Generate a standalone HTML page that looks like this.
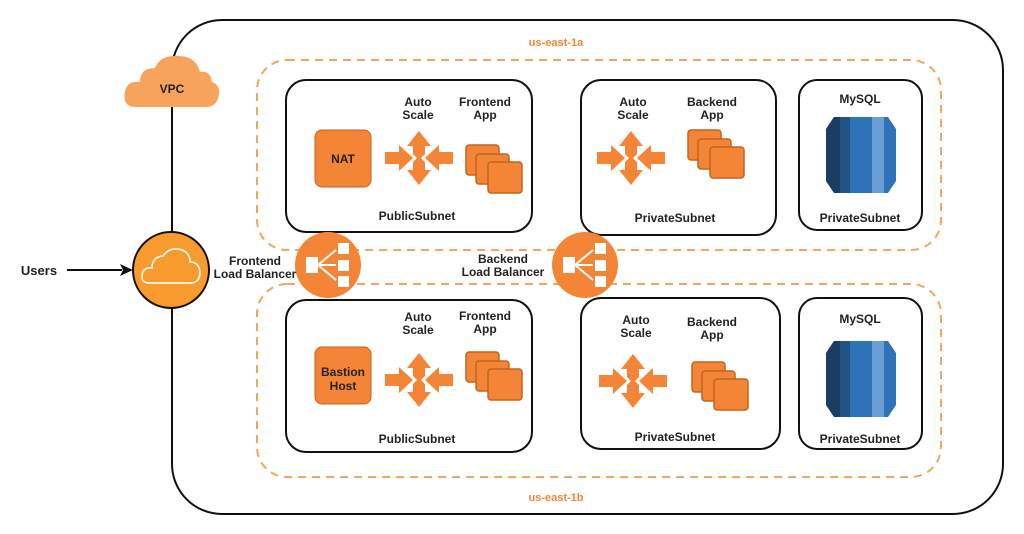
<!DOCTYPE html>
<html><head><meta charset="utf-8"><style>
html,body{margin:0;padding:0;background:#fff}
svg{display:block}
text{font-family:"Liberation Sans",Arial,sans-serif;font-weight:bold;font-size:12px;fill:#222;text-anchor:middle}
</style></head><body>
<svg width="1024" height="534" viewBox="0 0 1024 534" xmlns="http://www.w3.org/2000/svg">
<defs>
<symbol id="as" overflow="visible">
 <g fill="#F58536">
  <polygon points="-12,-12 0,-27 12,-12 6,-12 6,-4 0,2 -6,-4 -6,-12"/>
  <polygon points="-12,12 0,27 12,12 6,12 6,4 0,-2 -6,4 -6,12"/>
  <polygon points="-34,-6 -20,-6 -20,-13 -6,0 -20,13 -20,6 -34,6"/>
  <polygon points="34,-6 20,-6 20,-13 6,0 20,13 20,6 34,6"/>
 </g>
</symbol>
<symbol id="app" overflow="visible">
 <g fill="#F58536" stroke="#C0651F" stroke-width="1.5">
  <rect x="0" y="0" width="33" height="30" rx="3"/>
  <rect x="10" y="9" width="33" height="30" rx="3"/>
  <rect x="22" y="17" width="34" height="31" rx="3"/>
 </g>
</symbol>
<symbol id="db" overflow="visible">
 <path d="M8,0 L62,0 L70,12 L70,64 L62,76 L8,76 L0,64 L0,12 Z" fill="#2E73B8"/>
 <path d="M8,0 L14,0 L14,76 L8,76 L0,64 L0,12 Z" fill="#1B3D63"/>
 <path d="M14,0 L24,0 L24,76 L14,76 Z" fill="#225385"/>
 <path d="M46,0 L58,0 L58,76 L46,76 Z" fill="#6A9FD4"/>
</symbol>
<symbol id="lb" overflow="visible">
 <circle cx="0" cy="0" r="33" fill="#F58536"/>
 <g fill="#fff" stroke="#fff">
  <rect x="-22" y="-8" width="12" height="16" stroke="none"/>
  <rect x="10" y="-22" width="11" height="11" stroke="none"/>
  <rect x="10" y="-5" width="11" height="11" stroke="none"/>
  <rect x="10" y="11" width="11" height="11" stroke="none"/>
  <line x1="-10" y1="0" x2="8" y2="-15" stroke-width="2"/>
  <line x1="-10" y1="0" x2="8" y2="0" stroke-width="2"/>
  <line x1="-10" y1="0" x2="8" y2="15" stroke-width="2"/>
 </g>
</symbol>
</defs>

<!-- VPC border -->
<rect x="172" y="20" width="831" height="494" rx="50" fill="none" stroke="#111" stroke-width="2"/>
<line x1="172" y1="100" x2="172" y2="232" stroke="#111" stroke-width="2"/>
<!-- VPC cloud -->
<path d="M135,107 Q122,106 125,92 Q127,80 140,82 Q140,68 155,68 Q160,55 178,56 Q196,56 200,72 Q210,70 212,82 Q222,86 218,98 Q216,107 205,107 Z" fill="#F8A35B"/>
<text x="172" y="93">VPC</text>

<!-- zones -->
<rect x="257" y="60" width="684" height="190" rx="30" fill="none" stroke="#F8A35B" stroke-width="2" stroke-dasharray="8,6"/>
<rect x="257" y="284" width="684" height="193" rx="30" fill="none" stroke="#F8A35B" stroke-width="2" stroke-dasharray="8,6"/>
<text x="556" y="46" style="fill:#F58536;font-size:11px">us-east-1a</text>
<text x="556" y="501" style="fill:#F58536;font-size:11px">us-east-1b</text>

<!-- subnets top -->
<rect x="286" y="80" width="246" height="152" rx="20" fill="#fff" stroke="#111" stroke-width="2"/>
<rect x="581" y="80" width="195" height="155" rx="20" fill="#fff" stroke="#111" stroke-width="2"/>
<rect x="799" y="80" width="123" height="150" rx="18" fill="#fff" stroke="#111" stroke-width="2"/>
<!-- subnets bottom -->
<rect x="286" y="300" width="246" height="152" rx="20" fill="#fff" stroke="#111" stroke-width="2"/>
<rect x="581" y="298" width="199" height="151" rx="20" fill="#fff" stroke="#111" stroke-width="2"/>
<rect x="799" y="298" width="123" height="151" rx="18" fill="#fff" stroke="#111" stroke-width="2"/>

<!-- top public -->
<rect x="315" y="130" width="56" height="57" rx="7" fill="#F58536" stroke="#C0651F" stroke-width="1"/>
<text x="343" y="163">NAT</text>
<use href="#as" x="419" y="158"/>
<use href="#app" x="466" y="145"/>
<text x="418" y="106">Auto</text><text x="418" y="119">Scale</text>
<text x="485" y="106">Frontend</text><text x="485" y="119">App</text>
<text x="417" y="220">PublicSubnet</text>

<!-- top private -->
<use href="#as" x="631" y="158"/>
<use href="#app" x="688" y="130"/>
<text x="633" y="106">Auto</text><text x="633" y="119">Scale</text>
<text x="712" y="106">Backend</text><text x="712" y="119">App</text>
<text x="675" y="222">PrivateSubnet</text>

<!-- top mysql -->
<text x="860" y="103">MySQL</text>
<use href="#db" x="826" y="117"/>
<text x="860" y="222">PrivateSubnet</text>

<!-- bottom public -->
<rect x="315" y="347" width="56" height="57" rx="7" fill="#F58536" stroke="#C0651F" stroke-width="1"/>
<text x="343" y="376">Bastion</text><text x="343" y="390">Host</text>
<use href="#as" x="419" y="380"/>
<use href="#app" x="466" y="352"/>
<text x="418" y="321">Auto</text><text x="418" y="334">Scale</text>
<text x="485" y="320">Frontend</text><text x="485" y="333">App</text>
<text x="417" y="443">PublicSubnet</text>

<!-- bottom private -->
<use href="#as" x="633" y="381"/>
<use href="#app" x="692" y="362"/>
<text x="636" y="324">Auto</text><text x="636" y="337">Scale</text>
<text x="712" y="326">Backend</text><text x="712" y="339">App</text>
<text x="675" y="441">PrivateSubnet</text>

<!-- bottom mysql -->
<text x="860" y="323">MySQL</text>
<use href="#db" x="826" y="341"/>
<text x="860" y="443">PrivateSubnet</text>

<!-- load balancers -->
<use href="#lb" x="328" y="265"/>
<use href="#lb" x="585" y="265"/>
<text x="255" y="265">Frontend</text><text x="255" y="278">Load Balancer</text>
<text x="503" y="263">Backend</text><text x="503" y="276">Load Balancer</text>

<!-- IGW -->
<circle cx="171" cy="270" r="38" fill="#F89B2E" stroke="#111" stroke-width="2"/>
<path d="M150,283 Q141,283 142,275 Q143,267 152,268 Q152,257 163,256 Q170,246 182,250 Q190,253 190,262 Q199,262 200,272 Q200,283 190,283 Z" fill="none" stroke="#fff" stroke-width="1.5"/>
<line x1="172" y1="308" x2="172" y2="330" stroke="#111" stroke-width="2"/>

<!-- Users -->
<text x="39" y="275" style="font-size:13px">Users</text>
<line x1="67" y1="270" x2="122" y2="270" stroke="#111" stroke-width="2"/>
<polygon points="133,270 120,264 123,270 120,276" fill="#111"/>
</svg>
</body></html>
